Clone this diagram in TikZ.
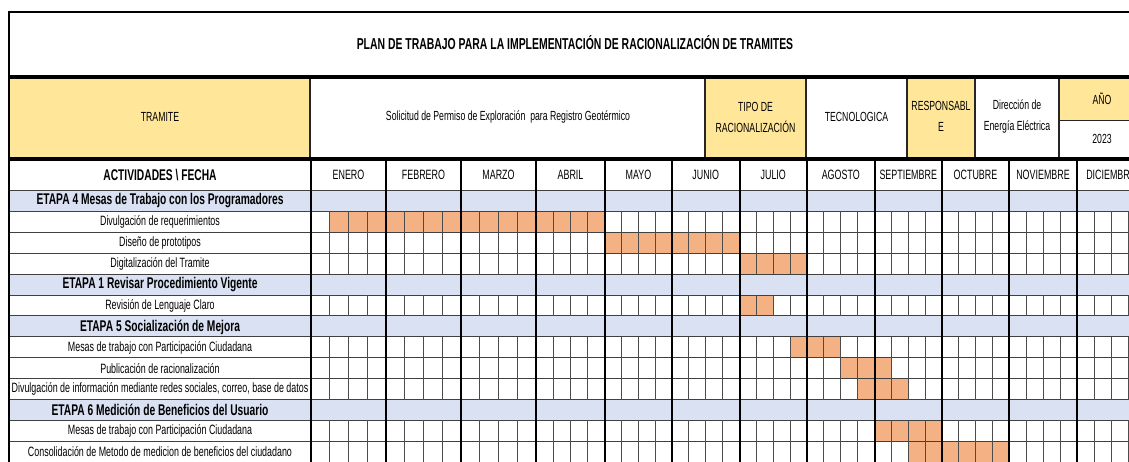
\documentclass[tikz,border=0pt]{standalone}
\usepackage{fontspec}
\setmainfont{Liberation Sans}[FakeStretch=0.66]
\definecolor{cellyellow}{HTML}{FFE699}
\definecolor{cellblue}{HTML}{D9E1F2}
\definecolor{cellorange}{HTML}{F4B183}
\tikzset{
  titletext/.style={inner sep=0pt, font=\bfseries\fontsize{15.8}{18}\selectfont},
  headtext/.style={inner sep=0pt, align=center, font=\fontsize{13.2}{21}\selectfont},
  monthtext/.style={inner sep=0pt, font=\fontsize{13.5}{16}\selectfont},
  acttext/.style={inner sep=0pt, font=\fontsize{13.5}{15}\selectfont},
  etapatext/.style={inner sep=0pt, font=\bfseries\fontsize{15.5}{17}\selectfont},
  rowline/.style={line width=0.9pt, black!75},
  weekline/.style={line width=0.9pt, black!70},
  monthline/.style={line width=2pt, black},
  headline/.style={line width=1.2pt, black!85},
  bandline/.style={line width=3.8pt, black}
}
\begin{document}
\begin{tikzpicture}[x=1pt,y=-1pt]

  \newcommand{\rowht}{20.9}
  \newcommand{\gridtop}{190.5}
  \def\mstart{{311,386,461,536,605,672,739.5,807,874.5,942,1009,1077,1145}}

\useasboundingbox (0,0) rectangle (1129,462);
\clip (0,0) rectangle (1129,462);

%% header fills
\fill[cellyellow] (9,78) rectangle (310,157);
\fill[cellyellow] (705,78) rectangle (806,157);
\fill[cellyellow] (907,78) rectangle (975,157);
\fill[cellyellow] (1059,78) rectangle (1145,120.7);

%% etapa rows
\foreach \r in {1,5,7,11}
  \fill[cellblue] (9,{\gridtop+(\r-1)*\rowht}) rectangle (1145,{\gridtop+\r*\rowht});

%% weeks with work (row/first week/last week)
\foreach \r/\f/\l in {2/1/15, 3/16/23, 4/24/27, 6/24/25, 8/27/29, 9/30/32,
    10/31/33, 12/32/35, 13/34/39} {
  \pgfmathtruncatemacro\ma{int(\f/4)}
  \pgfmathsetmacro\xa{\mstart[\ma]+(\mstart[\ma+1]-\mstart[\ma])*(\f-4*\ma)/4}
  \pgfmathtruncatemacro\mb{int((\l+1)/4)}
  \pgfmathsetmacro\xb{\mstart[\mb]+(\mstart[\mb+1]-\mstart[\mb])*(\l+1-4*\mb)/4}
  \fill[cellorange] (\xa,{\gridtop+(\r-1)*\rowht}) rectangle (\xb,{\gridtop+\r*\rowht});
}

%% grid
\foreach \r in {0,...,13}
  \draw[rowline] (9,{\gridtop+\r*\rowht}) -- (1145,{\gridtop+\r*\rowht});
\foreach \s/\e in {1/4, 5/6, 7/10, 11/13}
  \foreach \a/\b in {311/386, 386/461, 461/536, 536/605, 605/672, 672/739.5,
      739.5/807, 807/874.5, 874.5/942, 942/1009, 1009/1077, 1077/1145}
    \foreach \k in {1,2,3}
      \draw[weekline] ({\a+(\b-\a)*\k/4},{\gridtop+\s*\rowht}) -- ({\a+(\b-\a)*\k/4},{\gridtop+\e*\rowht});
\foreach \a in {311,386,461,536,605,672,739.5,807,874.5,942,1009,1077}
  \draw[monthline] (\a,160) -- (\a,462);

\foreach \a in {310,705,806,907,975,1059}
  \draw[headline] (\a,78) -- (\a,157);
\draw[headline] (1059,120.7) -- (1145,120.7);

\draw[bandline] (9,77) -- (1145,77);
\draw[bandline] (9,159) -- (1145,159);
\draw[line width=1.2pt] (9,462) -- (9,12) -- (1145,12);

%% texts
\node (title) at (575,43) [titletext] {PLAN DE TRABAJO PARA LA IMPLEMENTACIÓN DE RACIONALIZACIÓN DE TRAMITES};

\node (tramite) at (160,117) [headtext] {TRAMITE};
\node (solicitud) at (508,117) [headtext] {Solicitud de Permiso de Exploración\ \ para Registro Geotérmico};
\node (tipo) at (755.5,117) [headtext] {TIPO DE\\RACIONALIZACIÓN};
\node (tecno) at (856.5,117) [headtext] {TECNOLOGICA};
\node (resp) at (941,116) [headtext] {RESPONSABL\\E};
\node (direccion) at (1017,117) [headtext] {Dirección de\\Energía Eléctrica};
\node (anio) at (1102,99) [headtext] {AÑO};
\node (year) at (1102,139) [headtext] {2023};

\node (actfecha) at (160,175) [etapatext] {ACTIVIDADES \textbackslash\ FECHA};
\foreach \a/\b/\mes in {311/386/ENERO, 386/461/FEBRERO, 461/536/MARZO, 536/605/ABRIL,
    605/672/MAYO, 672/739.5/JUNIO, 739.5/807/JULIO, 807/874.5/AGOSTO,
    874.5/942/SEPTIEMBRE, 942/1009/OCTUBRE, 1009/1077/NOVIEMBRE, 1077/1145/DICIEMBRE}
  \node (mes\mes) at ({(\a+\b)/2},175) [monthtext] {\mes};

\node (etapa4) at (160,201) [etapatext] {ETAPA 4 Mesas de Trabajo con los Programadores};
\node (divreq) at (160,222) [acttext] {Divulgación de requerimientos};
\node (diseno) at (160,243) [acttext] {Diseño de prototipos};
\node (digital) at (160,264) [acttext] {Digitalización del Tramite};
\node (etapa1) at (160,285) [etapatext] {ETAPA 1 Revisar Procedimiento Vigente};
\node (lenguaje) at (160,306) [acttext] {Revisión de Lenguaje Claro};
\node (etapa5) at (160,327) [etapatext] {ETAPA 5 Socialización de Mejora};
\node (mesasa) at (160,348) [acttext] {Mesas de trabajo con Participación Ciudadana};
\node (publica) at (160,369) [acttext] {Publicación de racionalización};
\node (divinfo) at (160,389) [acttext] {Divulgación de información mediante redes sociales, correo, base de datos};
\node (etapa6) at (160,410) [etapatext] {ETAPA 6 Medición de Beneficios del Usuario};
\node (mesasb) at (160,431) [acttext] {Mesas de trabajo con Participación Ciudadana};
\node (consol) at (160,452) [acttext] {Consolidación de Metodo de medicion de beneficios del ciudadano};

\end{tikzpicture}
\end{document}
